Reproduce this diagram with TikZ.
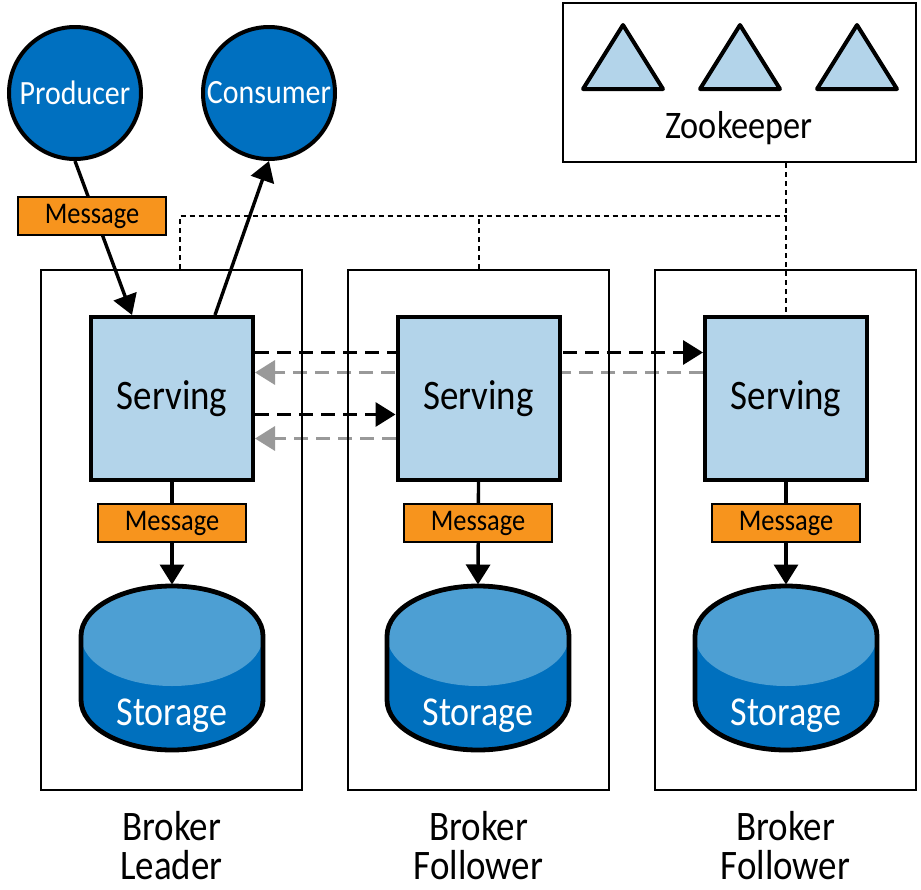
\documentclass[tikz,border=0pt]{standalone}
\usepackage{fontspec}
\setmainfont{Carlito}[FakeStretch=0.88]
\usepackage{tikz}
\usetikzlibrary{arrows.meta, positioning, backgrounds}
\definecolor{clientblue}{RGB}{0,112,192}
\definecolor{servfill}{RGB}{179,212,234}
\definecolor{dblight}{RGB}{77,159,211}
\definecolor{dbdark}{RGB}{0,112,190}
\definecolor{msgorange}{RGB}{247,148,29}
\definecolor{ackgray}{RGB}{153,153,153}

\begin{document}
\begin{tikzpicture}[
        x=0.5pt, y=-0.5pt,
        client/.style={circle, draw=black, line width=2pt, fill=clientblue, minimum size=66pt, inner sep=0pt, text=white, font=\fontsize{17}{20}\selectfont},
        broker/.style={rectangle, draw=black, line width=0.8pt, minimum width=130.7pt, minimum height=260.2pt},
        serving/.style={rectangle, draw=black, line width=2pt, fill=servfill, minimum width=81pt, minimum height=81.5pt, font=\fontsize{21}{24}\selectfont},
        msg/.style={rectangle, draw=black, line width=1pt, fill=msgorange, minimum width=74pt, minimum height=19pt, inner sep=0pt, font=\fontsize{15}{18}\selectfont},
        brklabel/.style={align=center, inner sep=0pt, font=\fontsize{21}{19.5}\selectfont},
        zknode/.style={draw=black, line width=2pt, fill=servfill, line join=round},
        arrow/.style={-{Triangle[length=10pt, width=12pt]}, line width=1.7pt},
        repl/.style={arrow, dash pattern=on 7pt off 4pt},
        ack/.style={repl, draw=ackgray},
        sync/.style={line width=1pt, dash pattern=on 2.5pt off 2pt},
        storage/.pic={
            \fill[dbdark] (-91,-32) -- (-91,32) arc[start angle=180, end angle=360, x radius=45.5pt, y radius=25pt] -- (91,-32) arc[start angle=0, end angle=180, x radius=45.5pt, y radius=25pt] -- cycle;
            \fill[dblight] (0,-32) ellipse[x radius=45.5pt, y radius=25pt];
            \draw[line width=2.4pt] (-91,-32) -- (-91,32) arc[start angle=180, end angle=360, x radius=45.5pt, y radius=25pt] -- (91,-32) arc[start angle=0, end angle=180, x radius=45.5pt, y radius=25pt] -- cycle;
            \node[anchor=base, text=white, font=\fontsize{20.5}{24}\selectfont] (-label) at (0,57) {Storage};
            \coordinate (-top) at (0,-83.5);
        }
    ]
        \useasboundingbox (0,0) rectangle (921,889);

        % Clients
        \node[client] (prod) at (75,93) {Producer};
        \node[client] (cons) at (269,93) {Consumer};

        % Zookeeper ensemble
        \node[broker, minimum width=176.7pt, minimum height=79.7pt] (zk) at (739.5,82.5) {};
        \foreach \tx in {623,740,857}
            \draw[zknode] (\tx,25) -- (\tx+40,89) -- (\tx-40,89) -- cycle;
        \node[anchor=base, font=\fontsize{19.5}{22}\selectfont] (zklabel) at (739,138) {Zookeeper};

        % Brokers
        \node[broker] (brk1) at (171.5,530) {};
        \node[broker] (brk2) at (478.5,530) {};
        \node[broker] (brk3) at (785.5,530) {};
        \node[brklabel, below=10pt of brk1] (lbl1) {Broker\\Leader};
        \node[brklabel, below=10pt of brk2] (lbl2) {Broker\\Follower};
        \node[brklabel, below=10pt of brk3] (lbl3) {Broker\\Follower};

        \node[serving] (serv1) at (172,398.5) {Serving};
        \node[serving] (serv2) at (478.5,398.5) {Serving};
        \node[serving] (serv3) at (786,398.5) {Serving};

        \pic (st1) at (172,668) {storage};
        \pic (st2) at (478,668) {storage};
        \pic (st3) at (786,668) {storage};

        \node[msg] (msg0) at (92,216) {Message};
        \node[msg] (msg1) at (172,523) {Message};
        \node[msg] (msg2) at (478,523) {Message};
        \node[msg] (msg3) at (786,523) {Message};

        % Arrows
        \begin{scope}[on background layer]
            \draw[arrow] (prod.south) -- ([xshift=-20pt]serv1.north);
            \draw[arrow] ([xshift=21.5pt]serv1.north) -- (cons.south);

            \draw[repl] ([yshift=23pt]serv1.east) -- ([yshift=23pt]serv3.west);
            \draw[ack] ([yshift=13pt]serv3.west) -- ([yshift=13pt]serv1.east);
            \draw[repl] ([yshift=-8pt]serv1.east) -- ([yshift=-8pt]serv2.west);
            \draw[ack] ([yshift=-20pt]serv2.west) -- ([yshift=-20pt]serv1.east);

            \draw[arrow] (serv1.south) -- (st1-top);
            \draw[arrow] (serv2.south) -- (st2-top);
            \draw[arrow] (serv3.south) -- (st3-top);

            \coordinate (zkbus) at (787,216);
            \draw[sync] (zk.south -| serv3.north) -- (serv3.north);
            \draw[sync] ([xshift=4pt]brk1.north) |- (zkbus);
            \draw[sync] (brk2.north) -- (brk2.north |- zkbus);
        \end{scope}
    \end{tikzpicture}
\end{document}
